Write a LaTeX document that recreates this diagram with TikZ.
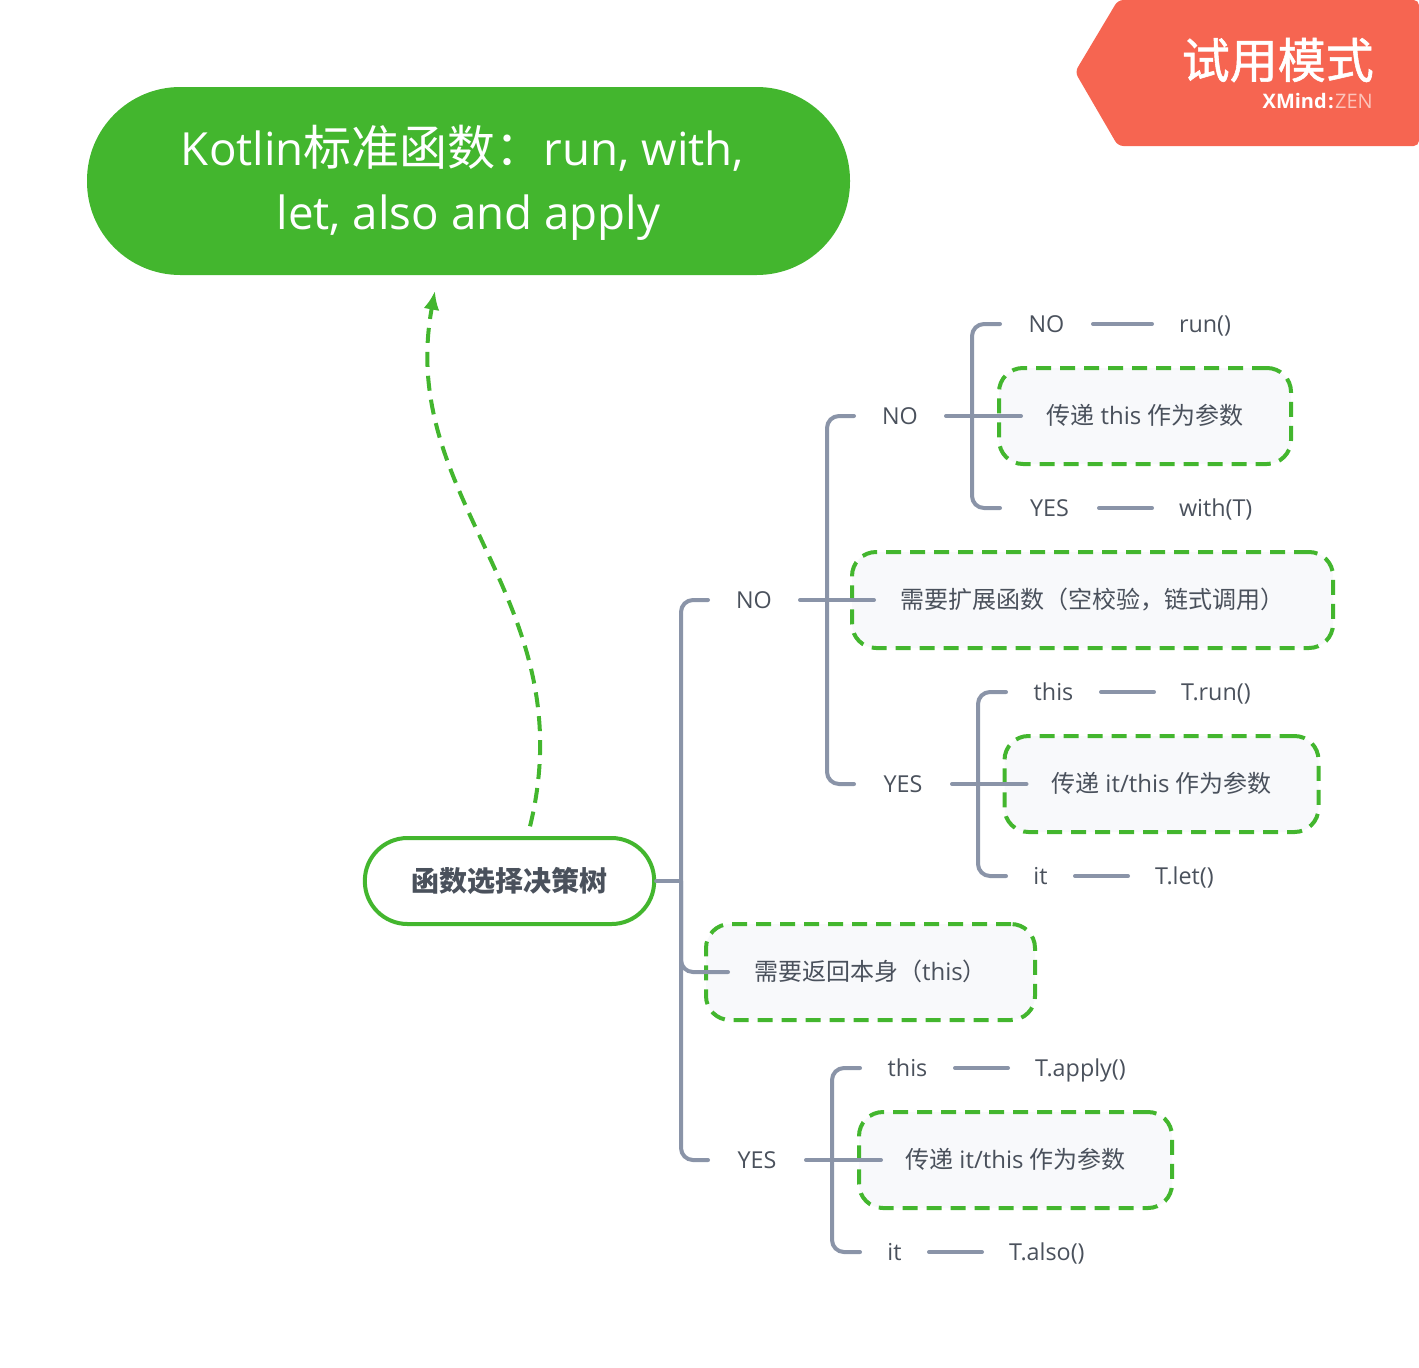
\documentclass[tikz,border=0pt]{standalone}
\usepackage{fontspec}
\setmainfont{Open Sans}
\newfontfamily\cjk{Noto Sans CJK SC}
\newfontfamily\cjkheavy[FakeBold=1.2]{Noto Sans CJK SC}
\definecolor{themegreen}{HTML}{43B62E}
\definecolor{linegray}{HTML}{8A94A8}
\definecolor{textgray}{HTML}{4A515C}
\definecolor{boxfill}{HTML}{F8F9FB}
\definecolor{badgered}{HTML}{F66551}
\definecolor{zenpink}{HTML}{FCC5BC}
\usetikzlibrary{arrows.meta}
\tikzset{
  titlebox/.style={rectangle, rounded corners=70pt, fill=themegreen, text=white, minimum width=572.25pt, minimum height=141pt, align=center, font=\fontsize{34.25}{48}\selectfont},
  rootbox/.style={rectangle, rounded corners=32pt, draw=themegreen, line width=3pt, fill=white, text=textgray, minimum width=217pt, minimum height=64.5pt, font=\fontsize{21}{26}\selectfont\cjk\bfseries},
  choice/.style={rectangle, inner xsep=0pt, outer sep=0pt, text=textgray, text height=14.5pt, text depth=2.5pt, font=\fontsize{17.5}{22}\selectfont},
  result/.style={choice, anchor=west, inner xsep=20.25pt},
  notebox/.style={rectangle, rounded corners=18pt, draw=themegreen, line width=3pt, dash pattern=on 11.25pt off 6.75pt, fill=boxfill, text=textgray, minimum height=72pt, outer sep=0pt, text height=14.5pt, text depth=2.5pt, font=\fontsize{18}{22}\selectfont},
  branch/.style={draw=linegray, line width=3pt, line cap=round, rounded corners=9pt},
  relation/.style={draw=themegreen, line width=3pt, dash pattern=on 11.25pt off 6.75pt, -{Latex[length=14pt,width=12pt]}, shorten <=7.5pt, shorten >=12pt}
}
\begin{document}
\begin{tikzpicture}[x=0.75pt, y=-0.75pt]
\useasboundingbox (0,0) rectangle (1419,1367);

\fill[badgered, rounded corners=4pt] (1118,0) -- (1419,0) -- (1419,146) -- (1118,146) -- (1075,72) -- cycle;
\node[anchor=east, text=white, inner sep=0pt, font=\fontsize{36}{40}\selectfont\cjkheavy] (badge) at (1374,60) {试用模式};
\node[anchor=east, inner sep=0pt, text=white, font=\fontsize{15}{18}\selectfont] (brand) at (1373,101) {\textbf{XMind}\hspace{1pt}\textbf{:}\hspace{1pt}\textcolor{zenpink}{ZEN}};

\node[titlebox] (title) at (468.5,181) {\rule{0pt}{33.5pt}Kotlin{\fontsize{36}{48}\selectfont\cjk 标准函数：}run, with,\kern9pt\\let, also and apply};
\node[rootbox] (root) at (509.5,881) {函数选择决策树};

\node[choice, minimum width=69pt] (no1) at (754,600) {NO};
\node[choice, minimum width=73.5pt] (yes1) at (757,1160) {YES};
\node[choice, minimum width=69pt] (no2) at (900,416) {NO};
\node[choice, minimum width=73.5pt] (yes2) at (903,784) {YES};
\node[choice, minimum width=69.75pt] (no3) at (1046.5,324) {NO};
\node[choice, minimum width=74.25pt] (yes3) at (1049.5,508) {YES};
\node[choice, minimum width=71.25pt] (this1) at (1053.5,692) {this};
\node[choice, minimum width=51.75pt] (it1) at (1040.5,876) {it};
\node[choice, minimum width=71.25pt] (this2) at (907.5,1068) {this};
\node[choice, minimum width=51.75pt] (it2) at (894.5,1252) {it};

\node[result] (run) at (1152,324) {run()};
\node[result] (with) at (1152,508) {with(T)};
\node[result] (trun) at (1154,692) {T.run()};
\node[result] (tlet) at (1128,876) {T.let()};
\node[result] (tapply) at (1008,1068) {T.apply()};
\node[result] (talso) at (982,1252) {T.also()};

\node[notebox, minimum width=219pt] (note1) at (1145,416) {{\cjk 传递} this {\cjk 作为参数}};
\node[notebox, minimum width=360.75pt] (note2) at (1092.5,600) {\cjk 需要扩展函数（空校验，链式调用）};
\node[notebox, minimum width=235.5pt] (note3) at (1161.5,784) {{\cjk 传递} it/this {\cjk 作为参数}};
\node[notebox, minimum width=246.75pt] (note4) at (870.5,972) {{\cjk 需要返回本身（}this{\cjk ）}};
\node[notebox, minimum width=234.75pt] (note5) at (1015.5,1160) {{\cjk 传递} it/this {\cjk 作为参数}};

\coordinate (trunk1) at (681,881);
\coordinate (trunk2) at (827,600);
\coordinate (trunk3) at (972,416);
\coordinate (trunk4) at (978,784);
\coordinate (trunk5) at (832,1160);

\draw[branch] (no1.west) -| (trunk1) |- (yes1.west);
\draw[branch] (root.east) -- (trunk1);
\draw[branch] (trunk1) |- ([xshift=16.5pt]note4.west);

\draw[branch] (no2.west) -| (trunk2) |- (yes2.west);
\draw[branch] (no1.east) -- ([xshift=16.5pt]note2.west);

\draw[branch] (no3.west) -| (trunk3) |- (yes3.west);
\draw[branch] (no2.east) -- ([xshift=16.5pt]note1.west);
\draw[branch] (no3.east) -- (run.west);
\draw[branch] (yes3.east) -- (with.west);

\draw[branch] (this1.west) -| (trunk4) |- (it1.west);
\draw[branch] (yes2.east) -- ([xshift=16.5pt]note3.west);
\draw[branch] (this1.east) -- (trun.west);
\draw[branch] (it1.east) -- (tlet.west);

\draw[branch] (this2.west) -| (trunk5) |- (it2.west);
\draw[branch] (yes1.east) -- ([xshift=16.5pt]note5.west);
\draw[branch] (this2.east) -- (tapply.west);
\draw[branch] (it2.east) -- (talso.west);

\draw[relation] (root.68) .. controls (585,600) and (396,500) .. (title.252.5);
\end{tikzpicture}
\end{document}
